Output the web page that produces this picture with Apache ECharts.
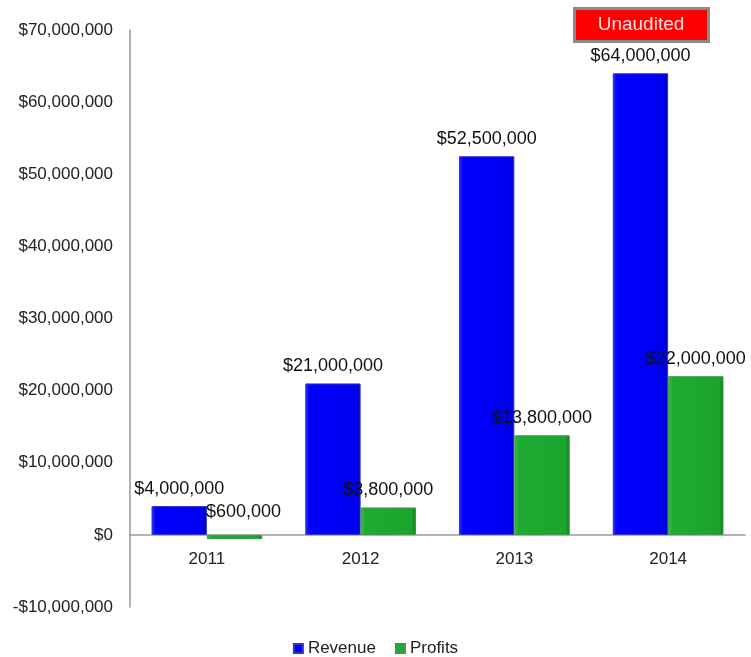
<!DOCTYPE html>
<html><head><meta charset="utf-8">
<script src="https://cdn.jsdelivr.net/npm/echarts@6/dist/echarts.min.js"></script>
<style>html,body{margin:0;padding:0;background:#fff}#c{width:751px;height:657px}</style>
</head><body><div id="c"></div>
<script>
var categories = ['2011', '2012', '2013', '2014'];
var revenue = [4000000, 21000000, 52500000, 64000000];
var profits = [-600000, 3800000, 13800000, 22000000];
var yTicks = [-10000000, 0, 10000000, 20000000, 30000000, 40000000, 50000000, 60000000, 70000000];

function money(v) {
  var s = Math.abs(Math.round(v)).toString().replace(/\B(?=(\d{3})+(?!\d))/g, ',');
  return (v < 0 ? '-$' : '$') + s;
}
var font = '"Liberation Sans", Arial, sans-serif';
var chart = echarts.init(document.getElementById('c'));
chart.setOption({
  animation: false,
  textStyle: { fontFamily: font },
  grid: { left: 130, right: 6, top: 30, bottom: 50, containLabel: false },
  legend: {
    top: 635, left: 'center', itemWidth: 9, itemHeight: 9, itemGap: 19,
    icon: 'rect',
    textStyle: { fontSize: 17, color: '#222', fontFamily: font },
    data: [
      { name: 'Revenue', itemStyle: { color: '#0000ff' } },
      { name: 'Profits', itemStyle: { color: '#1eaa30' } }
    ]
  },
  xAxis: {
    type: 'category', data: categories,
    axisLine: { onZero: true, lineStyle: { color: '#999', width: 1.5 } },
    axisTick: { show: false },
    axisLabel: { fontSize: 17, color: '#222', margin: -56, fontFamily: font }
  },
  yAxis: {
    type: 'value', min: yTicks[0], max: yTicks[yTicks.length - 1], interval: 10000000,
    axisLine: { show: true, lineStyle: { color: '#999', width: 1.5 } },
    axisTick: { show: false },
    splitLine: { show: false },
    axisLabel: { fontSize: 17, color: '#222', margin: 17, formatter: money, fontFamily: font }
  },
  series: [
    {
      name: 'Revenue', type: 'bar', data: revenue, barGap: '0%', barCategoryGap: '28%',
      itemStyle: {
        color: new echarts.graphic.LinearGradient(0, 0, 1, 0, [
          { offset: 0, color: '#2a2aff' }, { offset: 0.08, color: '#0000ff' },
          { offset: 0.92, color: '#0000f0' }, { offset: 1, color: '#0000b0' }]),
        borderColor: '#3535c8', borderWidth: 1
      },
      label: { show: true, position: 'top', distance: 8, fontSize: 18, color: '#111',
        fontFamily: font, formatter: function (p) { return money(Math.abs(p.value)); } }
    },
    {
      name: 'Profits', type: 'bar', data: profits,
      itemStyle: {
        color: new echarts.graphic.LinearGradient(0, 0, 1, 0, [
          { offset: 0, color: '#3cc24c' }, { offset: 0.08, color: '#1eaa30' },
          { offset: 0.92, color: '#1ca52d' }, { offset: 1, color: '#137a20' }]),
        borderColor: '#3a9a45', borderWidth: 1
      },
      label: { show: true, position: 'top', distance: 8, fontSize: 18, color: '#111',
        fontFamily: font, formatter: function (p) { return money(Math.abs(p.value)); } },
      labelLayout: function (params) {
        if (params.dataIndex === 0) {
          var r = params.rect;
          return { x: r.x + r.width / 2 + 9, y: Math.min(r.y, r.y + r.height) - 23,
                   align: 'center', verticalAlign: 'middle' };
        }
      }
    }
  ],
  graphic: [{
    type: 'group', left: 573, top: 7,
    children: [
      { type: 'rect', shape: { x: 1.5, y: 1.5, width: 134, height: 33 },
        style: { fill: '#ff0000', stroke: '#8a8a8a', lineWidth: 3 } },
      { type: 'text', style: { x: 68, y: 18, text: 'Unaudited', fill: '#ffdede',
        font: '19px ' + font, textAlign: 'center', textVerticalAlign: 'middle' } }
    ]
  }]
});
</script></body></html>
